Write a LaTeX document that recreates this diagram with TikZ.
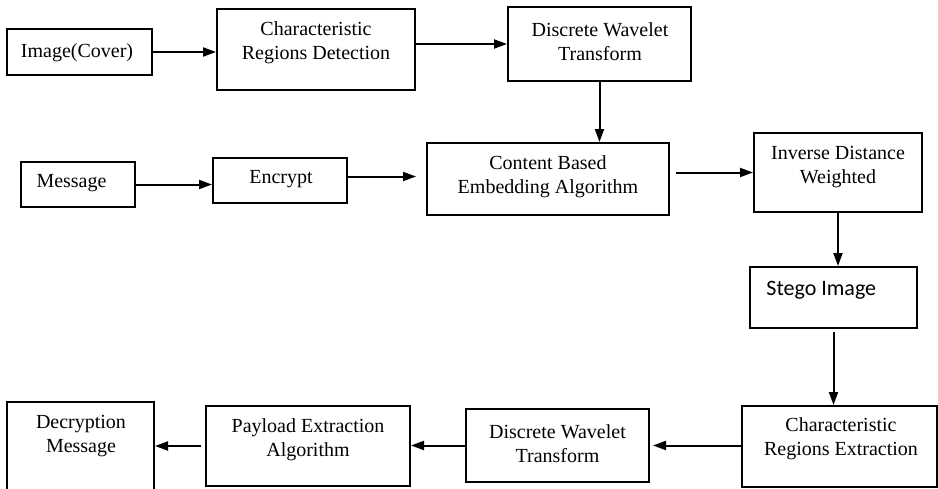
\documentclass[tikz,border=0pt]{standalone}
\usepackage{fontspec}
\setmainfont{Liberation Serif}
\newfontfamily\stegofont{Carlito}
\usetikzlibrary{arrows.meta}
\tikzset{
  box/.style={draw, line width=1pt, inner sep=0pt},
  txt/.style={align=center, inner sep=0pt, font=\fontsize{10}{12}\selectfont},
  arr/.style={line width=1pt, -{Triangle[length=6.5pt,width=4.5pt]}}
}
\begin{document}
\begin{tikzpicture}[x=0.5pt,y=-0.5pt]
\useasboundingbox (0,0) rectangle (938,488);

% embedding side
\node(cover) at (79.5,52) [box, minimum width=72.5pt, minimum height=23pt] {};
\node(crd) at (316,49.5) [box, minimum width=99pt, minimum height=40.5pt] {};
\node(dwt) at (599.5,44) [box, minimum width=91.5pt, minimum height=37pt] {};
\node(msg) at (78,184.5) [box, minimum width=57pt, minimum height=22.5pt] {};
\node(enc) at (280,180.5) [box, minimum width=67pt, minimum height=22.5pt] {};
\node(cbe) at (548,179) [box, minimum width=121pt, minimum height=36pt] {};
\node(idw) at (838,172.5) [box, minimum width=84pt, minimum height=39.5pt] {};
\node(stego) at (833.5,297.5) [box, minimum width=83.5pt, minimum height=30.5pt] {};
% extraction side
\node(cre) at (839.5,446.5) [box, minimum width=97.5pt, minimum height=40.5pt] {};
\node(dwtb) at (557.5,445.5) [box, minimum width=91.5pt, minimum height=36.5pt] {};
\node(pea) at (308,446) [box, minimum width=102pt, minimum height=40pt] {};
\node(dm) at (80.5,456) [box, minimum width=73.5pt, minimum height=54pt] {};

\node(cover-t) at (77,53) [txt] {Image(Cover)};
\node(crd-t) at (316,43) [txt] {Characteristic\\Regions Detection};
\node(dwt-t) at (600,41.5) [txt] {Discrete Wavelet\\Transform};
\node(msg-t) at (71.5,183.5) [txt] {Message};
\node(enc-t) at (281,179.5) [txt] {Encrypt};
\node(cbe-t) at (548,177) [txt] {Content Based\\Embedding Algorithm};
\node(idw-t) at (838,167.5) [txt] {Inverse Distance\\Weighted};
\node(stego-t) at (766,290) [anchor=west, inner sep=0pt, font=\stegofont\fontsize{11}{13}\selectfont] {Stego Image};
\node(cre-t) at (841,439) [txt] {Characteristic\\Regions Extraction};
\node(dwtb-t) at (557.5,443.5) [txt] {Discrete Wavelet\\Transform};
\node(pea-t) at (308,439.5) [txt] {Payload Extraction\\Algorithm};
\node(dm-t) at (81,436.5) [txt] {Decryption\\Message};

\draw[arr] (cover.east) -- (cover.east -| crd.west);
\draw[arr] (crd.east |- dwt.west) -- (dwt.west);
\draw[arr] (dwt.south) -- (dwt.south |- cbe.north);
\draw[arr] (msg.east) -- (msg.east -| enc.west);
\draw[arr, shorten >=5pt] ([yshift=2pt]enc.east) -- ([yshift=2pt]enc.east -| cbe.west);
\draw[arr, shorten <=3pt] (cbe.east |- idw.west) -- (idw.west);
\draw[arr] (idw.south) -- (idw.south |- stego.north);
\draw[arr, shorten <=1.5pt] (stego.south) -- (stego.south |- cre.north);
\draw[arr, shorten >=1.5pt] (cre.west |- dwtb.east) -- (dwtb.east);
\draw[arr] (dwtb.west) -- (dwtb.west -| pea.east);
\draw[arr, shorten <=2pt] (pea.west) -- (pea.west -| dm.east);

\end{tikzpicture}
\end{document}
